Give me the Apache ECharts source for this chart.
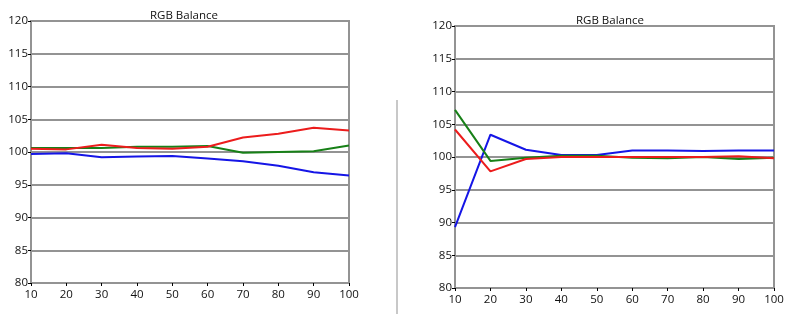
<!DOCTYPE html>
<html>
<head>
<meta charset="utf-8">
<script src="https://cdn.jsdelivr.net/npm/echarts@6/dist/echarts.min.js"></script>
<style>
  html, body { margin: 0; padding: 0; background: #fff; }
  #chart { width: 792px; height: 314px; }
</style>
</head>
<body>
<div id="chart"></div>
<script>
var levels = [10, 20, 30, 40, 50, 60, 70, 80, 90, 100];

// left panel
var redLeft   = [100.5, 100.4, 101.1, 100.6, 100.5, 100.8, 102.2, 102.8, 103.7, 103.3];
var greenLeft = [100.6, 100.6, 100.6, 100.8, 100.8, 100.9, 99.9, 100.0, 100.1, 101.0];
var blueLeft  = [99.7, 99.8, 99.2, 99.3, 99.4, 99.0, 98.6, 97.9, 96.9, 96.4];

// right panel
var redRight   = [104.2, 97.8, 99.7, 100.0, 100.0, 100.0, 100.0, 100.0, 100.1, 99.8];
var greenRight = [107.2, 99.4, 99.9, 100.2, 100.2, 99.9, 99.8, 100.0, 99.7, 99.9];
var blueRight  = [89.3, 103.4, 101.1, 100.3, 100.3, 101.0, 101.0, 100.9, 101.0, 101.0];

var chart = echarts.init(document.getElementById('chart'));

function pairs(vals) {
    var out = [];
    for (var i = 0; i < levels.length; i++) out.push([levels[i], vals[i]]);
    return out;
}

var font = 'Open Sans';
var gridColor = '#939393';

function xAx(idx) {
    return {
        type: 'value', gridIndex: idx, min: 10, max: 100, interval: 10,
        axisLine: { show: true, lineStyle: { color: gridColor, width: 2 } },
        axisTick: { show: true, length: 3, lineStyle: { color: '#000', width: 1 } },
        axisLabel: { color: '#111', fontSize: 11.5, fontFamily: font, margin: 6 },
        splitLine: { show: false }
    };
}
function yAx(idx) {
    return {
        type: 'value', gridIndex: idx, min: 80, max: 120, interval: 5,
        axisLine: { show: true, lineStyle: { color: gridColor, width: 2 } },
        axisTick: { show: true, length: 3, lineStyle: { color: '#000', width: 1 } },
        axisLabel: { color: '#111', fontSize: 11.5, fontFamily: font, margin: 3 },
        splitLine: { show: true, lineStyle: { color: gridColor, width: 2 } }
    };
}
function line(name, vals, color, idx) {
    return {
        name: name, type: 'line', xAxisIndex: idx, yAxisIndex: idx,
        data: pairs(vals), symbol: 'none', smooth: false,
        lineStyle: { color: color, width: 2 }, itemStyle: { color: color },
        z: name === 'B' ? 3 : (name === 'G' ? 4 : 5)
    };
}

var option = {
    animation: false,
    backgroundColor: '#fff',
    title: [
        { text: 'RGB Balance', left: 179, top: 5, textAlign: 'center',
          textStyle: { fontSize: 11.5, fontWeight: 'normal', color: '#111', fontFamily: font } },
        { text: 'RGB Balance', left: 605, top: 10, textAlign: 'center',
          textStyle: { fontSize: 11.5, fontWeight: 'normal', color: '#111', fontFamily: font } }
    ],
    grid: [
        { left: 31, top: 21, width: 318, height: 262, show: true, borderColor: gridColor, borderWidth: 2 },
        { left: 455, top: 26, width: 319, height: 262, show: true, borderColor: gridColor, borderWidth: 2 }
    ],
    xAxis: [xAx(0), xAx(1)],
    yAxis: [yAx(0), yAx(1)],
    graphic: [
        { type: 'line', shape: { x1: 397, y1: 100, x2: 397, y2: 314 },
          style: { stroke: '#c8c8c8', lineWidth: 2 } }
    ],
    series: [
        line('B', blueLeft, '#1515e6', 0),
        line('G', greenLeft, '#178017', 0),
        line('R', redLeft, '#ec1c1c', 0),
        line('B', blueRight, '#1515e6', 1),
        line('G', greenRight, '#178017', 1),
        line('R', redRight, '#ec1c1c', 1)
    ]
};
chart.setOption(option);
</script>
</body>
</html>
